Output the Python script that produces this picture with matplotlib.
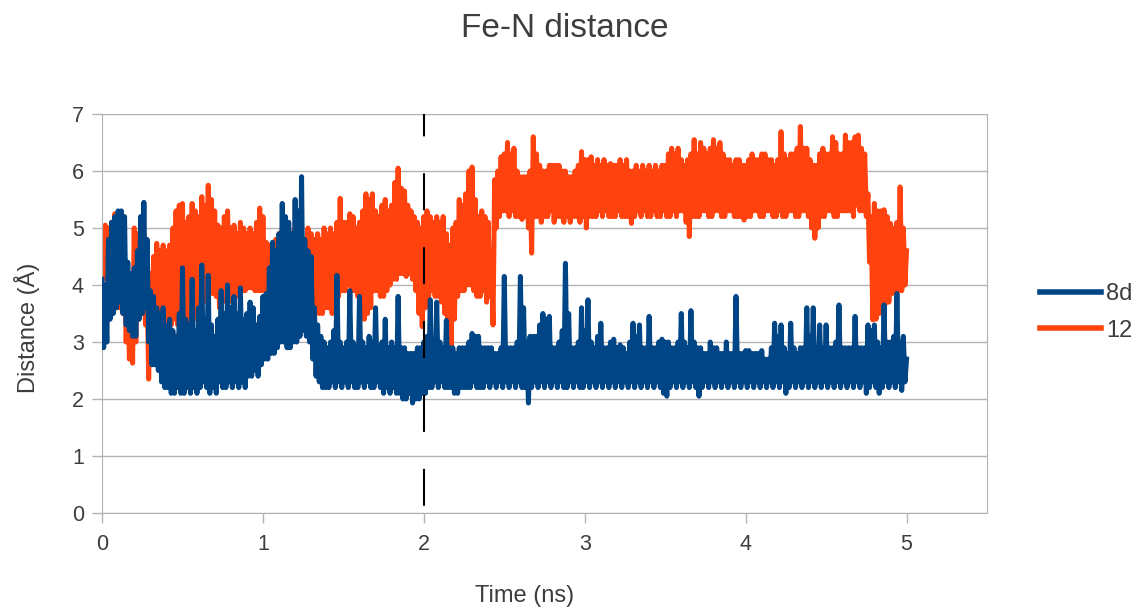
import numpy as np
import matplotlib
matplotlib.use("Agg")
import matplotlib.pyplot as plt

# Fe-N distance along the trajectory.
# The trace jumps up and down every frame (0.01 ns), so it is stored as
# the high frames (t = 0.00, 0.02, ... 5.00) and the low frames (t = 0.01, 0.03, ... 4.99).
dt = 0.01

d8d_high = [
    4.1, 4.0, 4.8, 5.1, 5.2, 5.3, 5.3, 5.2, 4.4, 4.2,        # 0.00
    4.3, 4.6, 5.2, 5.45, 4.8, 3.9, 3.8, 3.6, 3.5, 3.6,       # 0.20
    3.3, 3.4, 3.2, 3.1, 3.5, 4.3, 3.4, 3.3, 4.1, 3.2,        # 0.40
    3.6, 4.35, 3.4, 4.17, 3.3, 3.1, 3.4, 3.9, 3.5, 4.0,      # 0.60
    3.6, 3.8, 3.5, 3.95, 3.4, 3.5, 3.7, 3.6, 3.3, 3.45,      # 0.80
    3.8, 3.85, 4.3, 4.75, 4.6, 4.9, 5.43, 5.2, 5.1, 4.9,     # 1.00
    5.5, 5.3, 5.9, 4.8, 4.6, 4.5, 3.6, 3.3, 3.1, 3.0,        # 1.20
    2.9, 3.0, 3.2, 4.17, 3.0, 2.9, 3.0, 3.9, 3.0, 2.9,       # 1.40
    3.8, 3.0, 2.9, 3.1, 3.0, 3.6, 2.9, 3.0, 3.4, 2.9,        # 1.60
    3.0, 2.9, 3.8, 2.9, 2.9, 2.8, 2.8, 2.8, 2.9, 2.9,        # 1.80
    3.0, 3.1, 3.74, 3.0, 3.7, 3.0, 2.9, 3.38, 2.9, 2.9,      # 2.00
    2.8, 2.9, 2.9, 2.9, 3.0, 3.15, 3.1, 3.1, 2.9, 2.9,       # 2.20
    2.9, 2.9, 2.8, 2.8, 2.9, 4.15, 2.9, 2.9, 2.9, 3.0,       # 2.40
    4.15, 3.6, 3.0, 3.1, 3.1, 3.1, 3.3, 3.5, 3.4, 3.45,      # 2.60
    2.9, 2.9, 3.0, 3.2, 4.38, 3.5, 2.9, 2.9, 3.0, 3.6,       # 2.80
    3.2, 3.74, 3.0, 2.9, 3.1, 3.33, 2.9, 2.9, 3.0, 3.05,     # 3.00
    2.9, 2.95, 2.9, 2.8, 3.0, 3.33, 3.1, 3.3, 2.9, 2.9,      # 3.20
    3.45, 2.9, 2.9, 3.0, 3.05, 3.0, 3.0, 2.9, 2.9, 3.0,      # 3.40
    3.5, 3.0, 2.9, 3.55, 3.0, 2.9, 2.9, 2.8, 2.8, 3.0,       # 3.60
    2.9, 2.9, 2.8, 2.8, 3.0, 2.8, 2.8, 3.8, 2.8, 2.8,        # 3.80
    2.85, 2.85, 2.8, 2.8, 2.8, 2.85, 2.7, 2.7, 2.9, 3.33,    # 4.00
    3.1, 3.3, 2.9, 2.8, 3.33, 2.9, 2.8, 2.9, 2.9, 3.6,       # 4.20
    3.1, 3.6, 2.9, 3.3, 2.9, 3.3, 2.9, 2.9, 3.0, 3.65,       # 4.40
    2.9, 2.9, 2.9, 2.9, 3.45, 2.9, 2.9, 2.9, 3.3, 3.2,       # 4.60
    3.3, 3.0, 2.9, 3.65, 3.0, 3.0, 3.1, 3.85, 3.0, 3.1,      # 4.80
    2.7,
]
d8d_low = [
    2.9, 3.0, 3.4, 3.5, 3.6, 3.7, 3.5, 3.3, 3.2, 3.1,        # 0.01
    3.1, 3.4, 3.5, 3.6, 3.0, 2.6, 2.6, 2.5, 2.3, 2.2,        # 0.21
    2.2, 2.1, 2.1, 2.2, 2.1, 2.1, 2.2, 2.1, 2.2, 2.1,        # 0.41
    2.2, 2.3, 2.2, 2.1, 2.2, 2.1, 2.3, 2.2, 2.2, 2.3,        # 0.61
    2.2, 2.3, 2.2, 2.3, 2.2, 2.4, 2.4, 2.5, 2.4, 2.6,        # 0.81
    2.7, 2.7, 2.8, 2.8, 2.9, 3.0, 3.0, 2.9, 2.9, 3.0,        # 1.01
    3.0, 3.1, 3.2, 3.1, 3.0, 2.7, 2.4, 2.3, 2.2, 2.2,        # 1.21
    2.2, 2.3, 2.2, 2.3, 2.2, 2.3, 2.2, 2.3, 2.2, 2.2,        # 1.41
    2.3, 2.2, 2.3, 2.2, 2.2, 2.3, 2.2, 2.1, 2.2, 2.1,        # 1.61
    2.2, 2.1, 2.1, 2.0, 2.0, 2.1, 1.93, 2.0, 2.0, 2.1,       # 1.81
    2.1, 2.2, 2.2, 2.3, 2.2, 2.3, 2.2, 2.2, 2.2, 2.1,        # 2.01
    2.1, 2.2, 2.2, 2.2, 2.2, 2.3, 2.2, 2.2, 2.2, 2.3,        # 2.21
    2.2, 2.3, 2.2, 2.3, 2.2, 2.3, 2.2, 2.3, 2.2, 2.3,        # 2.41
    2.2, 2.2, 1.93, 2.2, 2.3, 2.2, 2.3, 2.2, 2.3, 2.2,       # 2.61
    2.3, 2.2, 2.3, 2.2, 2.2, 2.3, 2.2, 2.3, 2.2, 2.2,        # 2.81
    2.3, 2.2, 2.3, 2.2, 2.3, 2.2, 2.3, 2.2, 2.3, 2.2,        # 3.01
    2.3, 2.2, 2.3, 2.2, 2.3, 2.2, 2.3, 2.2, 2.3, 2.2,        # 3.21
    2.3, 2.2, 2.3, 2.2, 2.1, 2.05, 2.2, 2.3, 2.2, 2.3,       # 3.41
    2.2, 2.3, 2.2, 2.3, 2.2, 2.05, 2.2, 2.3, 2.2, 2.3,       # 3.61
    2.2, 2.3, 2.2, 2.3, 2.2, 2.3, 2.2, 2.3, 2.2, 2.3,        # 3.81
    2.2, 2.3, 2.2, 2.3, 2.2, 2.3, 2.2, 2.3, 2.2, 2.3,        # 4.01
    2.2, 2.3, 2.1, 2.2, 2.3, 2.2, 2.3, 2.2, 2.3, 2.2,        # 4.21
    2.3, 2.2, 2.3, 2.2, 2.3, 2.2, 2.3, 2.2, 2.3, 2.2,        # 4.41
    2.3, 2.2, 2.3, 2.2, 2.3, 2.2, 2.3, 2.1, 2.2, 2.3,        # 4.61
    2.2, 2.1, 2.2, 2.3, 2.2, 2.3, 2.2, 2.3, 2.15, 2.3,       # 4.81
]

d12_high = [
    5.0, 5.05, 5.0, 5.1, 5.25, 5.2, 5.0, 4.4, 4.2, 4.0,      # 0.00
    5.0, 4.9, 4.85, 4.6, 4.0, 4.2, 4.5, 4.73, 4.6, 4.7,      # 0.20
    4.6, 4.7, 5.0, 5.3, 5.4, 5.43, 5.1, 5.2, 5.43, 5.3,      # 0.40
    5.2, 5.55, 5.4, 5.75, 5.5, 5.3, 5.05, 5.0, 5.2, 5.3,     # 0.60
    5.0, 5.05, 4.9, 5.1, 5.0, 4.9, 5.0, 4.9, 5.1, 5.35,      # 0.80
    5.2, 4.75, 4.7, 4.7, 4.8, 4.9, 5.0, 4.9, 5.0, 4.8,       # 1.00
    5.0, 4.9, 4.9, 4.8, 5.0, 4.9, 4.8, 4.9, 4.8, 5.0,        # 1.20
    4.9, 5.0, 4.9, 5.1, 5.52, 5.1, 5.1, 5.25, 5.2, 5.0,      # 1.40
    5.1, 5.3, 5.6, 5.5, 5.6, 5.3, 5.2, 5.4, 5.5, 5.3,        # 1.60
    5.4, 5.8, 6.05, 5.7, 5.65, 5.4, 5.3, 5.2, 5.1, 5.0,      # 1.80
    5.2, 5.3, 5.2, 5.1, 5.2, 5.1, 5.2, 4.9, 4.7, 5.0,        # 2.00
    5.1, 5.5, 5.4, 5.6, 6.0, 6.07, 5.5, 5.2, 5.3, 5.2,       # 2.20
    5.1, 4.6, 5.85, 6.0, 6.25, 6.3, 6.5, 6.3, 6.4, 6.0,      # 2.40
    5.9, 5.9, 5.9, 6.0, 6.6, 6.3, 6.1, 6.0, 6.0, 6.1,        # 2.60
    6.1, 6.1, 6.1, 6.0, 6.0, 5.9, 5.9, 6.0, 6.1, 6.34,       # 2.80
    6.2, 6.2, 6.25, 6.1, 6.2, 6.1, 6.2, 6.1, 6.13, 6.1,      # 3.00
    6.1, 6.2, 6.1, 6.2, 6.0, 6.0, 6.1, 6.0, 6.1, 6.0,        # 3.20
    6.1, 6.0, 6.1, 6.0, 6.1, 6.1, 6.3, 6.4, 6.3, 6.4,        # 3.40
    6.2, 6.1, 6.2, 6.3, 6.55, 6.3, 6.5, 6.4, 6.3, 6.4,       # 3.60
    6.55, 6.4, 6.5, 6.3, 6.2, 6.2, 6.1, 6.2, 6.2, 6.1,       # 3.80
    6.1, 6.2, 6.3, 6.2, 6.2, 6.3, 6.3, 6.2, 6.2, 6.1,        # 4.00
    6.2, 6.69, 6.3, 6.2, 6.3, 6.3, 6.4, 6.78, 6.4, 6.4,      # 4.20
    6.2, 6.1, 6.1, 6.3, 6.4, 6.3, 6.3, 6.6, 6.5, 6.3,        # 4.40
    6.3, 6.63, 6.5, 6.5, 6.6, 6.63, 6.4, 6.3, 5.6, 5.2,      # 4.60
    5.43, 5.3, 5.3, 5.32, 5.2, 5.08, 5.0, 5.1, 5.72, 5.0,    # 4.80
    4.6,
]
d12_low = [
    4.1, 4.2, 4.0, 3.8, 3.6, 3.6, 3.5, 3.0, 2.7, 2.63,       # 0.01
    3.0, 3.4, 3.5, 3.3, 2.35, 2.8, 3.0, 3.1, 3.3, 3.2,       # 0.21
    3.1, 3.3, 3.4, 3.3, 3.4, 3.5, 3.4, 3.3, 3.4, 3.5,        # 0.41
    3.5, 3.7, 3.9, 3.85, 3.85, 3.8, 3.6, 3.7, 4.0, 4.0,      # 0.61
    3.7, 3.8, 3.8, 3.9, 3.9, 3.95, 3.95, 3.9, 3.9, 3.9,      # 0.81
    3.9, 4.0, 4.0, 3.9, 4.0, 4.1, 4.1, 4.0, 4.0, 4.1,        # 1.01
    4.1, 4.0, 4.1, 4.2, 4.1, 3.7, 3.6, 3.5, 3.5, 3.6,        # 1.21
    3.6, 3.5, 3.6, 3.8, 3.9, 3.9, 4.0, 3.9, 3.9, 3.8,        # 1.41
    3.6, 3.4, 3.5, 3.6, 3.9, 3.9, 3.8, 3.8, 3.9, 4.0,        # 1.61
    4.1, 4.1, 4.2, 4.2, 4.15, 4.2, 4.1, 3.9, 3.5, 3.27,      # 1.81
    3.6, 3.8, 3.9, 3.8, 3.8, 3.7, 3.5, 3.2, 2.9, 3.4,        # 2.01
    3.8, 3.9, 3.9, 4.0, 4.0, 3.9, 3.8, 3.8, 3.9, 3.7,        # 2.21
    3.8, 3.3, 5.0, 5.2, 5.3, 5.3, 5.2, 5.3, 5.2, 5.2,        # 2.41
    5.15, 5.2, 5.0, 4.56, 5.2, 5.2, 5.1, 5.2, 5.2, 5.3,      # 2.61
    5.1, 5.2, 5.2, 5.1, 5.2, 5.1, 5.2, 5.2, 5.1, 5.2,        # 2.81
    5.0, 5.2, 5.2, 5.2, 5.3, 5.2, 5.3, 5.2, 5.2, 5.2,        # 3.01
    5.3, 5.2, 5.2, 5.2, 5.08, 5.2, 5.3, 5.2, 5.3, 5.2,       # 3.21
    5.2, 5.3, 5.2, 5.2, 5.3, 5.2, 5.2, 5.3, 5.2, 5.3,        # 3.41
    5.3, 5.1, 4.85, 5.2, 5.2, 5.2, 5.3, 5.3, 5.2, 5.2,       # 3.61
    5.3, 5.3, 5.2, 5.2, 5.3, 5.3, 5.2, 5.2, 5.2, 5.14,       # 3.81
    5.2, 5.2, 5.3, 5.3, 5.2, 5.2, 5.3, 5.3, 5.2, 5.2,        # 4.01
    5.3, 5.2, 5.2, 5.3, 5.3, 5.2, 5.2, 5.3, 5.3, 5.2,        # 4.21
    5.0, 4.82, 5.0, 5.2, 5.2, 5.3, 5.3, 5.2, 5.2, 5.3,       # 4.41
    5.3, 5.3, 5.3, 5.2, 5.4, 5.3, 5.3, 5.2, 4.4, 3.39,       # 4.61
    3.4, 3.5, 3.6, 3.68, 3.7, 3.85, 3.9, 3.9, 3.9, 4.0,      # 4.81
]

series_names = ["8d", "12"]
series_colors = ["#004586", "#ff420e"]
marker_time = 2.0


def frames(high, low):
    # put the high and low frames back in time order
    out = np.empty(len(high) + len(low))
    out[0::2] = high
    out[1::2] = low
    return out


dist_8d = frames(d8d_high, d8d_low)
dist_12 = frames(d12_high, d12_low)
time = np.arange(len(dist_8d)) * dt

plt.rcParams['font.family'] = ['Liberation Sans', 'DejaVu Sans']
plt.rcParams['lines.scale_dashes'] = False
text_col = "#3d3d3d"
grid_col = "#b3b3b3"

fig = plt.figure(figsize=(11.4, 6.09), dpi=100)
ax = fig.add_axes([0.0895, 0.1576, 0.7763, 0.6552])

# 12 goes under 8d, as in the original
ax.plot(time, dist_12, color=series_colors[1], lw=3.6, label=series_names[1], zorder=2)
ax.plot(time, dist_8d, color=series_colors[0], lw=3.6, label=series_names[0], zorder=3)
ax.axvline(marker_time, color="black", lw=1.5, linestyle=(48, (26.6, 26.6)), zorder=5)

ax.set_xlim(0, 5.5)
ax.set_ylim(0, 7)
ax.set_xticks([0, 1, 2, 3, 4, 5])
ax.set_yticks(range(8))
ax.grid(axis="y", color=grid_col, lw=1)
ax.set_axisbelow(True)
for s in ax.spines.values():
    s.set_color(grid_col)
ax.tick_params(colors=grid_col, labelcolor=text_col, labelsize=15.5, length=7, width=1)
ax.tick_params(axis="x", pad=8)
ax.tick_params(axis="y", pad=6)

fig.text(0.495, 0.954, "Fe-N distance", ha="center", va="center", fontsize=24, color=text_col)
fig.text(0.4605, 0.021, "Time (ns)", ha="center", va="center", fontsize=17, color=text_col)
fig.text(0.0237, 0.4614, "Distance (Å)", ha="center", va="center", rotation=90, fontsize=17, color=text_col)

h, l = ax.get_legend_handles_labels()
leg = fig.legend(h[::-1], l[::-1], loc="center left", bbox_to_anchor=(0.912, 0.487),
                 frameon=False, fontsize=17, handlelength=2.6, handletextpad=0.2,
                 borderpad=0, borderaxespad=0, labelspacing=0.6, labelcolor=text_col)
for line in leg.get_lines():
    line.set_linewidth(4)

fig.savefig("out.png", dpi=100)
